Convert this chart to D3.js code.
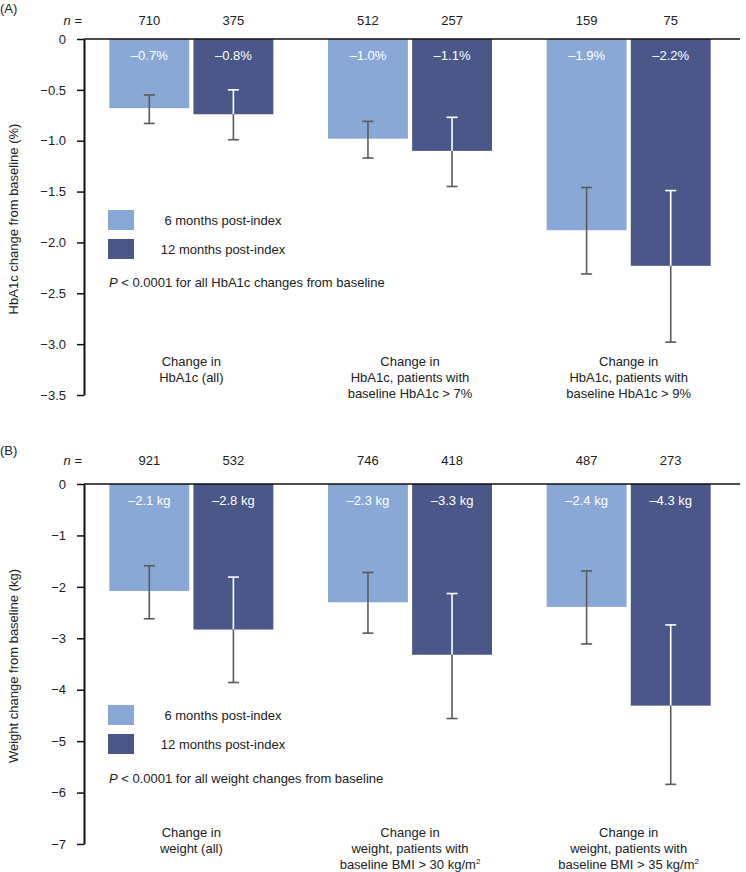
<!DOCTYPE html>
<html>
<head>
<meta charset="utf-8">
<script src="https://cdn.jsdelivr.net/npm/d3@7/dist/d3.min.js"></script>
<style>
  html, body { margin: 0; padding: 0; background: #fff; }
  svg { display: block; font-family: "Liberation Sans", Arial, sans-serif; }
</style>
</head>
<body>
<svg id="chart" width="746" height="872"></svg>
<script>
// ---------- DATA ----------
const seriesNames = ["6 months post-index", "12 months post-index"];

const hbCategories = [
  ["Change in", "HbA1c (all)"],
  ["Change in", "HbA1c, patients with", "baseline HbA1c > 7%"],
  ["Change in", "HbA1c, patients with", "baseline HbA1c > 9%"]
];
const hbN6 = [710, 512, 159];
const hbN12 = [375, 257, 75];
const hb6 = [-0.68, -0.98, -1.88];
const hb12 = [-0.74, -1.10, -2.23];
const hb6Hi = [-0.55, -0.81, -1.46];
const hb6Lo = [-0.83, -1.17, -2.31];
const hb12Hi = [-0.50, -0.77, -1.49];
const hb12Lo = [-0.99, -1.45, -2.98];
const hb6Labels = ["–0.7%", "–1.0%", "–1.9%"];
const hb12Labels = ["–0.8%", "–1.1%", "–2.2%"];
const hbTicks = [0, -0.5, -1.0, -1.5, -2.0, -2.5, -3.0, -3.5];

const wtCategories = [
  ["Change in", "weight (all)"],
  ["Change in", "weight, patients with", "baseline BMI > 30 kg/m|2"],
  ["Change in", "weight, patients with", "baseline BMI > 35 kg/m|2"]
];
const wtN6 = [921, 746, 487];
const wtN12 = [532, 418, 273];
const wt6 = [-2.08, -2.30, -2.39];
const wt12 = [-2.83, -3.32, -4.31];
const wt6Hi = [-1.59, -1.72, -1.69];
const wt6Lo = [-2.62, -2.90, -3.11];
const wt12Hi = [-1.81, -2.13, -2.74];
const wt12Lo = [-3.86, -4.56, -5.84];
const wt6Labels = ["–2.1 kg", "–2.3 kg", "–2.4 kg"];
const wt12Labels = ["–2.8 kg", "–3.3 kg", "–4.3 kg"];
const wtTicks = [0, -1, -2, -3, -4, -5, -6, -7];

// ---------- STYLE / LAYOUT ----------
const colors = ["#8aa8d6", "#4b5788"];
const errColor = "#5a5a5a";
const FS = 13;
const svg = d3.select("#chart");

const panels = [
  {
    letter: "(A)", letterY: 8, nY: 20, top: 39, bottom: 395, domain: [-3.5, 0],
    ticks: hbTicks, fmt: d => d === 0 ? "0" : d3.format(".1f")(d),
    title: "HbA1c change from baseline (%)",
    cats: hbCategories, n: [hbN6, hbN12], vals: [hb6, hb12],
    hi: [hb6Hi, hb12Hi], lo: [hb6Lo, hb12Lo], labels: [hb6Labels, hb12Labels],
    legendY: 210, pY: 282, pText: " < 0.0001 for all HbA1c changes from baseline", catY: 361
  },
  {
    letter: "(B)", letterY: 450, nY: 460, top: 484, bottom: 844, domain: [-7, 0],
    ticks: wtTicks, fmt: d => d === 0 ? "0" : d3.format("d")(d),
    title: "Weight change from baseline (kg)",
    cats: wtCategories, n: [wtN6, wtN12], vals: [wt6, wt12],
    hi: [wt6Hi, wt12Hi], lo: [wt6Lo, wt12Lo], labels: [wt6Labels, wt12Labels],
    legendY: 705, pY: 778, pText: " < 0.0001 for all weight changes from baseline", catY: 832
  }
];

const axisX = 84, rightX = 740;
const x0 = d3.scaleBand().domain([0, 1, 2]).range([82, 738]);
const x1 = d3.scaleBand().domain([0, 1]).range([0, 164]).paddingInner(0.05);
const groupOffset = (x0.bandwidth() - 164) / 2;
const barX = (g, s) => x0(g) + groupOffset + x1(s);

panels.forEach(p => {
  const y = d3.scaleLinear().domain(p.domain).range([p.bottom, p.top]);
  const g = svg.append("g");

  // panel letter
  g.append("text").attr("x", 0).attr("y", p.letterY).attr("dy", "0.35em")
    .attr("font-size", FS).attr("fill", "#222").text(p.letter);

  // n row
  const nt = g.append("text").attr("x", 82).attr("y", p.nY).attr("dy", "0.35em")
    .attr("text-anchor", "end").attr("font-size", FS).attr("fill", "#222");
  nt.append("tspan").attr("font-style", "italic").text("n");
  nt.append("tspan").text(" =");

  [0, 1].forEach(s => {
    p.n[s].forEach((v, i) => {
      g.append("text").attr("x", barX(i, s) + x1.bandwidth() / 2).attr("y", p.nY)
        .attr("dy", "0.35em").attr("text-anchor", "middle").attr("font-size", FS)
        .attr("fill", "#222").text(v);
    });
  });

  // bars
  [0, 1].forEach(s => {
    g.selectAll(null).data(p.vals[s]).enter().append("rect")
      .attr("x", (d, i) => barX(i, s))
      .attr("y", y(0))
      .attr("width", x1.bandwidth())
      .attr("height", d => y(d) - y(0))
      .attr("fill", colors[s]);
  });

  // error bars
  [0, 1].forEach(s => {
    p.vals[s].forEach((v, i) => {
      const cx = barX(i, s) + x1.bandwidth() / 2;
      const yHi = y(p.hi[s][i]), yLo = y(p.lo[s][i]), yBar = y(v);
      const inside = s === 1 ? "#ffffff" : errColor;
      g.append("line").attr("x1", cx).attr("x2", cx).attr("y1", yHi).attr("y2", yBar)
        .attr("stroke", inside).attr("stroke-width", 1.6);
      g.append("line").attr("x1", cx - 5.5).attr("x2", cx + 5.5).attr("y1", yHi).attr("y2", yHi)
        .attr("stroke", inside).attr("stroke-width", 1.6);
      g.append("line").attr("x1", cx).attr("x2", cx).attr("y1", yBar).attr("y2", yLo)
        .attr("stroke", errColor).attr("stroke-width", 1.6);
      g.append("line").attr("x1", cx - 5.5).attr("x2", cx + 5.5).attr("y1", yLo).attr("y2", yLo)
        .attr("stroke", errColor).attr("stroke-width", 1.6);
    });
  });

  // value labels
  [0, 1].forEach(s => {
    p.labels[s].forEach((t, i) => {
      g.append("text").attr("x", barX(i, s) + x1.bandwidth() / 2).attr("y", y(0) + 16)
        .attr("dy", "0.35em").attr("text-anchor", "middle").attr("font-size", FS)
        .attr("fill", "#fff").text(t);
    });
  });

  // y axis
  const ax = g.append("g").attr("transform", `translate(${axisX},0)`)
    .call(d3.axisLeft(y).tickValues(p.ticks).tickFormat(p.fmt).tickSize(7).tickSizeOuter(0));
  ax.select(".domain").attr("stroke", "#111").attr("stroke-width", 2);
  ax.selectAll(".tick line").attr("stroke", "#111").attr("stroke-width", 1.5);
  ax.selectAll(".tick text").attr("font-size", FS).attr("font-family", "Liberation Sans, Arial, sans-serif")
    .attr("fill", "#222").attr("x", -18);

  // zero line (x axis)
  g.append("line").attr("x1", axisX).attr("x2", rightX).attr("y1", y(0)).attr("y2", y(0))
    .attr("stroke", "#111").attr("stroke-width", 1.6);

  // y title
  g.append("text").attr("transform", `translate(13,${(p.top + p.bottom) / 2 + 2}) rotate(-90)`)
    .attr("dy", "0.35em").attr("text-anchor", "middle").attr("font-size", FS)
    .attr("fill", "#222").text(p.title);

  // legend
  [0, 1].forEach(s => {
    g.append("rect").attr("x", 108).attr("y", p.legendY + s * 29).attr("width", 26).attr("height", 20)
      .attr("fill", colors[s]);
    g.append("text").attr("x", 223).attr("y", p.legendY + s * 29 + 10).attr("dy", "0.35em")
      .attr("text-anchor", "middle").attr("font-size", FS).attr("fill", "#222").text(seriesNames[s]);
  });
  const pt = g.append("text").attr("x", 109).attr("y", p.pY).attr("dy", "0.35em")
    .attr("font-size", FS).attr("fill", "#222");
  pt.append("tspan").attr("font-style", "italic").text("P");
  pt.append("tspan").text(p.pText);

  // category labels
  p.cats.forEach((lines, i) => {
    const t = g.append("text").attr("text-anchor", "middle").attr("font-size", FS).attr("fill", "#222");
    lines.forEach((ln, k) => {
      const parts = ln.split("|");
      t.append("tspan").attr("x", x0(i) + x0.bandwidth() / 2)
        .attr("y", p.catY + k * 16).attr("dy", "0.35em").text(parts[0]);
      if (parts[1]) {
        t.append("tspan").attr("font-size", 8).attr("dy", -5).text(parts[1]);
      }
    });
  });
});
</script>
</body>
</html>
